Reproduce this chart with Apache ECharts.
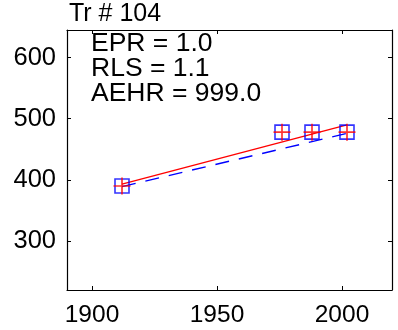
<!DOCTYPE html>
<html>
<head>
<meta charset="utf-8">
<script src="https://cdn.jsdelivr.net/npm/echarts@6/dist/echarts.min.js"></script>
<style>
  html, body { margin: 0; padding: 0; background: #fff; }
  #chart { width: 398px; height: 330px; }
</style>
</head>
<body>
<div id="chart"></div>
<script>
// observed points
var years = [1912, 1976, 1988, 2002];
var values = [390, 478, 478, 478];

// fitted lines (end points)
var redFitX = [1912, 2002];
var redFitY = [393, 490];
var blueFitX = [1912, 2002];
var blueFitY = [389, 476];

var xTicks = [1900, 1950, 2000];
var yTicks = [300, 400, 500, 600];

var titleText = 'Tr # 104';
var infoLines = ['EPR = 1.0', 'RLS = 1.1', 'AEHR = 999.0'];

function pairs(xs, ys) {
    return xs.map(function (x, i) { return [x, ys[i]]; });
}

var font = 'Liberation Sans, Arial, sans-serif';

var myChart = echarts.init(document.getElementById('chart'));

var axisCommon = {
    type: 'value',
    splitLine: { show: false },
    axisLine: { show: true, onZero: false, lineStyle: { color: '#000', width: 1.2 } },
    axisTick: { show: true, inside: true, length: 4, lineStyle: { color: '#000' } }
};

myChart.setOption({
    animation: false,
    title: {
        text: titleText,
        left: 69,
        top: 2,
        padding: 0,
        textStyle: { fontFamily: font, fontSize: 25, fontWeight: 'normal', color: '#000' }
    },
    graphic: [{
        type: 'text',
        left: 91,
        top: 30,
        style: {
            text: infoLines.join('\n'),
            font: '26.5px ' + font,
            lineHeight: 25,
            fill: '#000'
        }
    }],
    grid: { left: 67, right: 6, top: 30, bottom: 40 },
    xAxis: [
        Object.assign({}, axisCommon, {
            position: 'bottom', min: 1890, max: 2020,
            axisTick: Object.assign({}, axisCommon.axisTick, { customValues: xTicks }),
            axisLabel: {
                customValues: xTicks, fontFamily: font, fontSize: 24.5, color: '#000', margin: 13,
                formatter: function (v) { return String(v); }
            }
        }),
        Object.assign({}, axisCommon, {
            position: 'top', min: 1890, max: 2020,
            axisTick: Object.assign({}, axisCommon.axisTick, { customValues: xTicks }),
            axisLabel: { show: false }
        })
    ],
    yAxis: [
        Object.assign({}, axisCommon, {
            position: 'left', min: 220, max: 645,
            axisTick: Object.assign({}, axisCommon.axisTick, { customValues: yTicks }),
            axisLabel: {
                customValues: yTicks, fontFamily: font, fontSize: 25.5, color: '#000', margin: 11,
                formatter: function (v) { return String(v); }
            }
        }),
        Object.assign({}, axisCommon, {
            position: 'right', min: 220, max: 645,
            axisTick: Object.assign({}, axisCommon.axisTick, { customValues: yTicks }),
            axisLabel: { show: false }
        })
    ],
    series: [
        {
            type: 'line',
            data: pairs(blueFitX, blueFitY),
            showSymbol: false,
            lineStyle: { color: '#0000ff', width: 1.4, type: [14, 10] },
            z: 2
        },
        {
            type: 'line',
            data: pairs(redFitX, redFitY),
            showSymbol: false,
            lineStyle: { color: '#ff0000', width: 1.4 },
            z: 3
        },
        {
            type: 'scatter',
            data: pairs(years, values),
            symbol: 'rect',
            symbolSize: 14,
            itemStyle: { color: 'rgba(0,0,0,0)', borderColor: '#0000ff', borderWidth: 1.6 },
            z: 4
        },
        {
            type: 'scatter',
            data: pairs(years, values),
            symbol: 'path://M4.5,0H5.5V4.5H10V5.5H5.5V10H4.5V5.5H0V4.5H4.5Z',
            symbolSize: 17,
            itemStyle: { color: '#ff0000' },
            z: 5
        }
    ]
});
</script>
</body>
</html>
